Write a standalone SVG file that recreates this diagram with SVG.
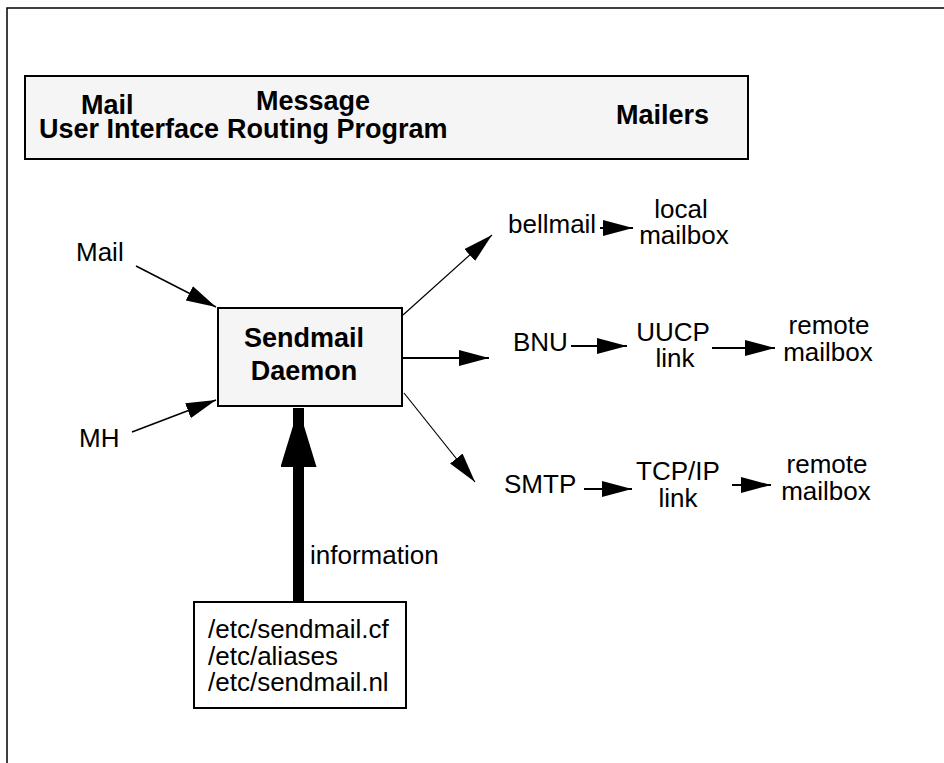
<svg xmlns="http://www.w3.org/2000/svg" width="944" height="763" viewBox="0 0 944 763">
<style>
.t{font-family:"Liberation Sans",Arial,sans-serif;font-size:26px;fill:#000}
.b{font-family:"Liberation Sans",Arial,sans-serif;font-size:27px;font-weight:bold;fill:#000}
.c{text-anchor:middle}
.box{fill:#f5f5f5;stroke:#000;stroke-width:2}
.wbox{fill:#fff;stroke:#000;stroke-width:2}
.ln{stroke:#000;fill:none}
</style>
<defs>
<marker id="ah" markerUnits="userSpaceOnUse" markerWidth="30" markerHeight="16" refX="30" refY="8" orient="auto">
<path d="M0,0 L30,8 L0,16 z" fill="#000"/>
</marker>
<marker id="big" markerUnits="userSpaceOnUse" markerWidth="60" markerHeight="36" refX="59" refY="18" orient="auto">
<path d="M0,0 L59,18 L0,36 z" fill="#000"/>
</marker>
</defs>
<rect width="944" height="763" fill="#fff"/>
<path d="M944,8 H7 V763" class="ln" stroke-width="1.5"/>

<g id="header">
<rect class="box" x="25" y="76" width="723" height="83"/>
<text class="b" x="81" y="114">Mail</text>
<text class="b" x="39" y="138">User Interface</text>
<text class="b" x="256" y="110">Message</text>
<text class="b" x="227" y="138">Routing Program</text>
<text class="b" x="616" y="124">Mailers</text>
</g>

<g id="sendmail">
<rect class="box" x="218" y="308" width="184" height="98"/>
<text class="b c" x="304" y="347">Sendmail</text>
<text class="b c" x="304" y="380">Daemon</text>
</g>

<g id="files">
<rect class="wbox" x="194" y="602" width="212" height="106"/>
<text class="t" x="208" y="638">/etc/sendmail.cf</text>
<text class="t" x="208" y="665">/etc/aliases</text>
<text class="t" x="208" y="691">/etc/sendmail.nl</text>
</g>

<g id="mail"><text class="t" x="76" y="261">Mail</text></g>
<g id="mh"><text class="t" x="79" y="447">MH</text></g>
<g id="bellmail"><text class="t" x="508" y="233">bellmail</text></g>
<g id="local"><text class="t c" x="681" y="218">local</text><text class="t c" x="684" y="244">mailbox</text></g>
<g id="bnu"><text class="t" x="513" y="351">BNU</text></g>
<g id="uucp"><text class="t c" x="673" y="341">UUCP</text><text class="t c" x="675" y="367">link</text></g>
<g id="remote1"><text class="t c" x="829" y="334">remote</text><text class="t c" x="828" y="361">mailbox</text></g>
<g id="smtp"><text class="t" x="504" y="493">SMTP</text></g>
<g id="tcpip"><text class="t c" x="678" y="480">TCP/IP</text><text class="t c" x="678" y="507">link</text></g>
<g id="remote2"><text class="t c" x="827" y="473">remote</text><text class="t c" x="826" y="500">mailbox</text></g>

<g id="connectors">
<line class="ln" stroke-width="1.5" x1="136" y1="266" x2="216" y2="307" marker-end="url(#ah)"/>
<line class="ln" stroke-width="1.5" x1="132" y1="432" x2="216" y2="400" marker-end="url(#ah)"/>
<line class="ln" stroke-width="1.2" x1="403" y1="315" x2="492" y2="235" marker-end="url(#ah)"/>
<line class="ln" stroke-width="2" x1="402" y1="358" x2="489" y2="358" marker-end="url(#ah)"/>
<line class="ln" stroke-width="1.2" x1="404" y1="393" x2="475" y2="482" marker-end="url(#ah)"/>
<line class="ln" stroke-width="11" x1="298.5" y1="602" x2="298.5" y2="408" marker-end="url(#big)"/>
<text class="t" x="310" y="564">information</text>
<line class="ln" stroke-width="2" x1="600" y1="228" x2="633" y2="228" marker-end="url(#ah)"/>
<line class="ln" stroke-width="2" x1="571" y1="346" x2="627" y2="346" marker-end="url(#ah)"/>
<line class="ln" stroke-width="2" x1="712" y1="348" x2="775" y2="348" marker-end="url(#ah)"/>
<line class="ln" stroke-width="2" x1="584" y1="489" x2="632" y2="489" marker-end="url(#ah)"/>
<line class="ln" stroke-width="2" x1="732" y1="485" x2="771" y2="485" marker-end="url(#ah)"/>
</g>
</svg>
